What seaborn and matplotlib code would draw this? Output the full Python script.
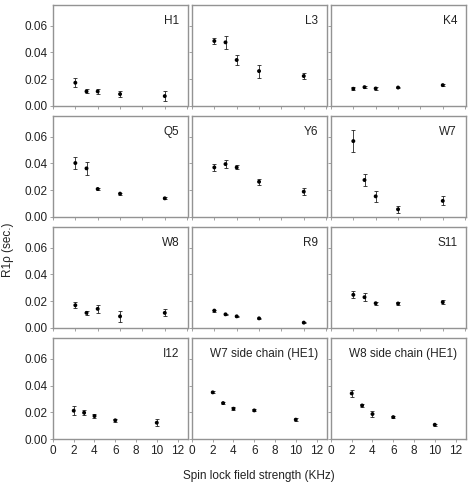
import seaborn as sns
import matplotlib
matplotlib.use("Agg")
import matplotlib.pyplot as plt
import numpy as np
import pandas as pd

sns.set_theme(style="white")
plt.rcParams['font.family'] = ['Liberation Sans', 'DejaVu Sans']

# spin lock field strength (KHz)
field = [2, 3, 4, 6, 10]

names = ['H1', 'L3', 'K4', 'Q5', 'Y6', 'W7', 'W8', 'R9', 'S11', 'I12',
         'W7 side chain (HE1)', 'W8 side chain (HE1)']

# R1rho values (sec.)
r1rho = [
    [0.0173, 0.0108, 0.0108, 0.0088, 0.0073],
    [0.0485, 0.0475, 0.0343, 0.0260, 0.0223],
    [0.0128, 0.0140, 0.0130, 0.0137, 0.0155],
    [0.0403, 0.0363, 0.0209, 0.0174, 0.0139],
    [0.0370, 0.0395, 0.0370, 0.0263, 0.0189],
    [0.0567, 0.0276, 0.0154, 0.0057, 0.0120],
    [0.0170, 0.0113, 0.0143, 0.0087, 0.0113],
    [0.0130, 0.0102, 0.0087, 0.0072, 0.0040],
    [0.0248, 0.0230, 0.0185, 0.0183, 0.0193],
    [0.0212, 0.0197, 0.0172, 0.0140, 0.0122],
    [0.0349, 0.0269, 0.0227, 0.0214, 0.0145],
    [0.0341, 0.0251, 0.0187, 0.0164, 0.0107],
]

# error bars
errs = [
    [0.0033, 0.0015, 0.0020, 0.0020, 0.0036],
    [0.0020, 0.0050, 0.0040, 0.0049, 0.0020],
    [0.0010, 0.0008, 0.0010, 0.0006, 0.0008],
    [0.0042, 0.0049, 0.0010, 0.0008, 0.0008],
    [0.0029, 0.0032, 0.0015, 0.0022, 0.0026],
    [0.0085, 0.0046, 0.0042, 0.0027, 0.0034],
    [0.0023, 0.0013, 0.0031, 0.0039, 0.0027],
    [0.0008, 0.0006, 0.0006, 0.0006, 0.0006],
    [0.0026, 0.0030, 0.0010, 0.0010, 0.0013],
    [0.0034, 0.0020, 0.0015, 0.0010, 0.0025],
    [0.0008, 0.0008, 0.0012, 0.0008, 0.0010],
    [0.0024, 0.0010, 0.0021, 0.0007, 0.0007],
]

rows = []
for n, vals, ee in zip(names, r1rho, errs):
    for f, v, e in zip(field, vals, ee):
        rows.append({'residue': n, 'field': f, 'r1rho': v, 'err': e})
df = pd.DataFrame(rows)

fig, axes = plt.subplots(4, 3, figsize=(4.73, 4.90), dpi=100)
fig.subplots_adjust(left=0.112, right=0.985, top=0.99, bottom=0.104,
                    wspace=0.03, hspace=0.1)

grey = '#939393'
for i, (ax, n) in enumerate(zip(axes.flat, names)):
    d = df[df['residue'] == n]
    ax.errorbar(d['field'], d['r1rho'], yerr=d['err'], fmt='none',
                ecolor='#222222', elinewidth=0.6, capsize=1.6, capthick=0.6)
    sns.scatterplot(data=d, x='field', y='r1rho', ax=ax, color='black',
                    s=8, marker='o', edgecolor='none', zorder=3)
    r, c = divmod(i, 3)
    ax.set_xlim(0, 13 if r == 3 else 12.07)
    ax.set_ylim(0, 0.0755)
    ax.set_xticks([0, 2, 4, 6, 8, 10, 12])
    ax.set_yticks([0, 0.02, 0.04, 0.06])
    ax.set_xlabel('')
    ax.set_ylabel('')
    for s in ax.spines.values():
        s.set_color(grey)
        s.set_linewidth(1.0)
    ax.tick_params(axis='both', which='both', direction='out', length=2.5,
                   width=0.6, color=grey, labelsize=8.5, pad=1.5,
                   labelcolor='#222222', bottom=True, left=True)
    if c == 0:
        ax.set_yticklabels(['0.00', '0.02', '0.04', '0.06'])
    else:
        ax.set_yticklabels([])
    if r == 3:
        ax.set_xticklabels(['0', '2', '4', '6', '8', '10', '12'])
    else:
        ax.set_xticklabels([])
    ax.text(0.935, 0.84, n, transform=ax.transAxes, ha='right', va='center',
            fontsize=8.5, color='#222222')

fig.text(0.017, 0.49, 'R1ρ (sec.)', rotation=90, ha='center', va='center',
         fontsize=8.5, color='#222222')
fig.text(0.548, 0.029, 'Spin lock field strength (KHz)', ha='center',
         va='center', fontsize=8.5, color='#222222')

plt.savefig('out.png', dpi=100)
